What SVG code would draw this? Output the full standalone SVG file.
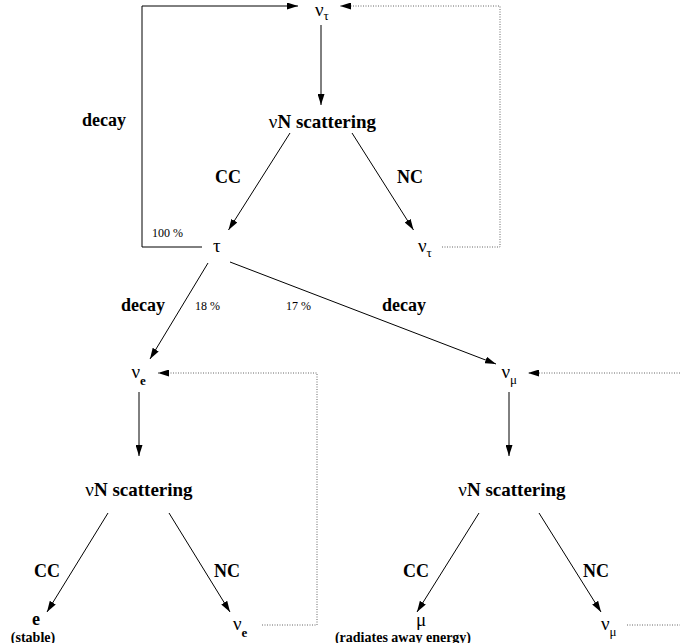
<svg xmlns="http://www.w3.org/2000/svg" width="680" height="643" viewBox="0 0 680 643">
<style>
text { font-family: "Liberation Serif", "Times New Roman", serif; fill: #000; }
.b { font-weight: bold; font-size: 18px; }
.sc { font-weight: bold; font-size: 19px; }
.g { font-size: 19px; font-weight: normal; }
.sub { font-size: 13px; font-weight: normal; }
.sb { font-size: 13px; font-weight: bold; }
.p { font-size: 12px; }
.sm { font-size: 14px; font-weight: bold; }
.ln { fill: none; stroke: #000; stroke-width: 1; }
.dt { fill: none; stroke: #666; stroke-width: 1; stroke-dasharray: 1 1.5; }
</style>
<defs>
<marker id="ah" markerWidth="11" markerHeight="7" refX="11" refY="3.5" orient="auto" markerUnits="userSpaceOnUse"><path d="M0,0 L11,3.5 L0,7 z" fill="#000" stroke="none"/></marker>
</defs>
<rect width="680" height="643" fill="#fff"/>
<g id="connectors">
<path class="ln" d="M202,247 H142 V6 H298" marker-end="url(#ah)"/>
<path class="dt" d="M442,247 H500 V6 H340" marker-end="url(#ah)"/>
<path class="ln" d="M321,25 V105" marker-end="url(#ah)"/>
<path class="ln" d="M290,133 L228.5,230" marker-end="url(#ah)"/>
<path class="ln" d="M352,133 L413.5,230" marker-end="url(#ah)"/>
<path class="ln" d="M208,263 L150,359" marker-end="url(#ah)"/>
<path class="ln" d="M230,262 L496,364" marker-end="url(#ah)"/>
<path class="dt" d="M262,625 H317 V373 H158" marker-end="url(#ah)"/>
<path class="dt" d="M680,373 H528" marker-end="url(#ah)"/>
<path class="dt" d="M627,625 H680"/>
<path class="ln" d="M139,392 V456" marker-end="url(#ah)"/>
<path class="ln" d="M509,392 V456" marker-end="url(#ah)"/>
<path class="ln" d="M108,513 L47,612" marker-end="url(#ah)"/>
<path class="ln" d="M169,513 L230,612" marker-end="url(#ah)"/>
<path class="ln" d="M479,513 L417,612" marker-end="url(#ah)"/>
<path class="ln" d="M539,513 L601,612" marker-end="url(#ah)"/>
</g>
<g id="labels">
<text class="b" x="82" y="125.5">decay</text>
<text class="b" x="215" y="183">CC</text>
<text class="b" x="397" y="183">NC</text>
<text class="p" x="152" y="237">100 %</text>
<text class="b" x="121" y="311">decay</text>
<text class="p" x="195" y="310">18 %</text>
<text class="p" x="286" y="310">17 %</text>
<text class="b" x="382" y="311">decay</text>
<text class="b" x="34" y="577">CC</text>
<text class="b" x="214" y="577">NC</text>
<text class="b" x="403" y="577">CC</text>
<text class="b" x="583" y="577">NC</text>
</g>
<g id="nu_tau_top"><text class="g" x="315" y="16">ν<tspan class="sub" dy="4">τ</tspan></text></g>
<g id="scatter_top"><text x="322.5" y="128" text-anchor="middle"><tspan class="g">ν</tspan><tspan class="sc">N scattering</tspan></text></g>
<g id="tau"><text class="g" x="213" y="251.5">τ</text></g>
<g id="nu_tau_nc"><text class="g" x="418" y="251.5">ν<tspan class="sub" dy="5">τ</tspan></text></g>
<g id="nu_e"><text class="g" x="131.5" y="378">ν<tspan class="sb" dy="7">e</tspan></text></g>
<g id="nu_mu"><text class="g" x="501.5" y="378">ν<tspan class="sub" dy="6">μ</tspan></text></g>
<g id="scatter_e"><text x="139" y="496" text-anchor="middle"><tspan class="g">ν</tspan><tspan class="sc">N scattering</tspan></text></g>
<g id="scatter_mu"><text x="512" y="496" text-anchor="middle"><tspan class="g">ν</tspan><tspan class="sc">N scattering</tspan></text></g>
<g id="electron"><text class="b" x="36" y="625" text-anchor="middle">e</text><text class="sm" x="33" y="641.5" text-anchor="middle">(stable)</text></g>
<g id="nu_e_nc"><text class="g" x="233" y="630">ν<tspan class="sb" dy="7">e</tspan></text></g>
<g id="muon"><text class="g" x="421" y="626" text-anchor="middle">μ</text><text class="sm" x="403" y="641.5" text-anchor="middle">(radiates away energy)</text></g>
<g id="nu_mu_nc"><text class="g" x="601" y="630">ν<tspan class="sub" dy="6">μ</tspan></text></g>
</svg>
